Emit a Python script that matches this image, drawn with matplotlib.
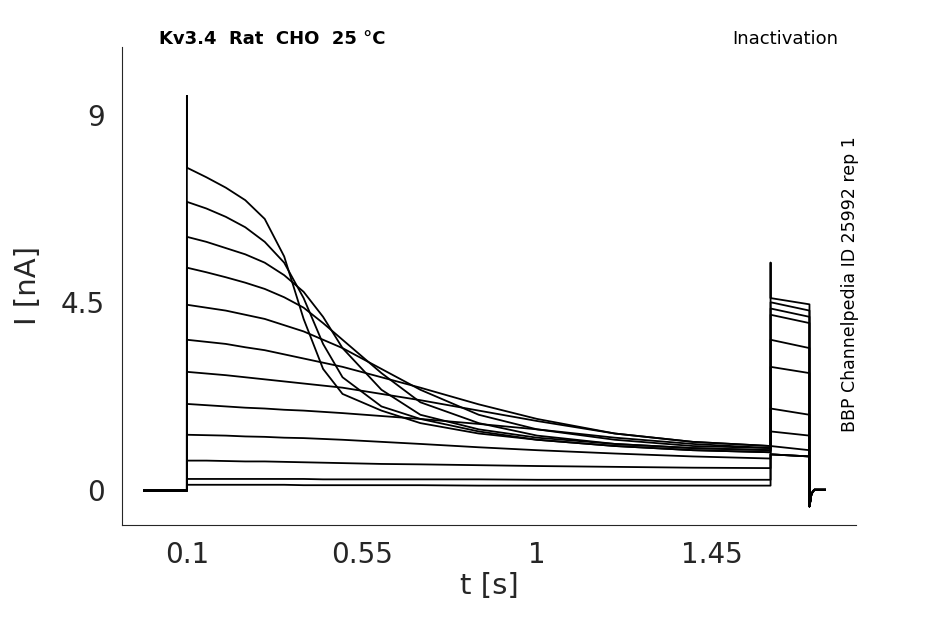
import numpy as np
from matplotlib import pyplot as plt

# sample times during the test pulse (s)
t_step = [0.1, 0.15, 0.2, 0.25, 0.3, 0.35, 0.4, 0.45, 0.5, 0.6, 0.7, 0.85, 1.0, 1.2, 1.4, 1.6]

# current (nA) of each sweep at the sample times
sweeps = [
    [7.73, 7.5, 7.25, 6.95, 6.5, 5.6, 4.1, 2.9, 2.3, 1.9, 1.6, 1.35, 1.2, 1.05, 0.95, 0.9],
    [6.91, 6.75, 6.55, 6.3, 5.95, 5.45, 4.6, 3.5, 2.7, 2.0, 1.7, 1.4, 1.2, 1.05, 0.95, 0.9],
    [6.07, 5.95, 5.8, 5.65, 5.45, 5.15, 4.75, 4.15, 3.4, 2.4, 1.8, 1.45, 1.25, 1.1, 1.0, 0.95],
    [5.33, 5.22, 5.1, 4.97, 4.82, 4.62, 4.37, 4.0, 3.6, 2.8, 2.1, 1.6, 1.3, 1.1, 1.0, 0.95],
    [4.44, 4.37, 4.3, 4.2, 4.1, 3.95, 3.8, 3.6, 3.4, 2.9, 2.4, 1.8, 1.45, 1.2, 1.05, 1.0],
    [3.6, 3.55, 3.5, 3.42, 3.35, 3.25, 3.15, 3.05, 2.95, 2.7, 2.45, 2.05, 1.7, 1.35, 1.15, 1.05],
    [2.83, 2.79, 2.75, 2.7, 2.65, 2.6, 2.55, 2.5, 2.45, 2.3, 2.15, 1.9, 1.65, 1.35, 1.15, 1.05],
    [2.06, 2.03, 2.0, 1.97, 1.95, 1.92, 1.9, 1.87, 1.84, 1.77, 1.7, 1.58, 1.45, 1.25, 1.1, 1.0],
    [1.32, 1.31, 1.3, 1.28, 1.27, 1.25, 1.24, 1.22, 1.2, 1.15, 1.1, 1.02, 0.95, 0.87, 0.8, 0.75],
    [0.7, 0.7, 0.69, 0.68, 0.68, 0.67, 0.66, 0.65, 0.64, 0.62, 0.61, 0.59, 0.57, 0.55, 0.53, 0.52],
    [0.26, 0.26, 0.26, 0.26, 0.26, 0.26, 0.26, 0.25, 0.25, 0.25, 0.25, 0.25, 0.24, 0.24, 0.24, 0.24],
    [0.12, 0.12, 0.12, 0.12, 0.12, 0.12, 0.11, 0.11, 0.11, 0.11, 0.11, 0.1, 0.1, 0.1, 0.1, 0.1],
]
# tail current at start / end of the 1.6-1.7 s pulse
tail_start = [4.6, 4.5, 4.35, 4.2, 3.6, 2.95, 1.95, 1.4, 1.05, 0.85, 0.85, 0.85]
tail_end = [4.45, 4.3, 4.15, 4.0, 3.4, 2.8, 1.8, 1.3, 0.95, 0.8, 0.8, 0.8]
peak_on = 9.45   # capacitive spike at 0.1 s
peak_tail = 5.45  # spike at 1.6 s

fig = plt.figure(figsize=(9.45, 6.24), dpi=100)
ax = fig.add_axes([0.129, 0.159, 0.777, 0.766])

for i, v in enumerate(sweeps):
    t = [-0.01, 0.1, 0.1]
    y = [-0.02, -0.02, peak_on if i == 0 else v[0]]
    t += t_step
    y += v
    t += [1.6, 1.6, 1.7, 1.7, 1.705, 1.712, 1.74]
    y += [peak_tail if i == 0 else tail_start[i], tail_start[i], tail_end[i],
          -0.4, -0.1, 0.0, 0.0]
    ax.plot(t, y, color='black', lw=1.3)

text_c = '#262626'
ax.set_xlim(-0.067, 1.82)
ax.set_ylim(-0.84, 10.63)
ax.set_xticks([0.1, 0.55, 1, 1.45])
ax.set_xticklabels(['0.1', '0.55', '1', '1.45'])
ax.set_yticks([0, 4.5, 9])
ax.set_yticklabels(['0', '4.5', '9'])
ax.tick_params(labelsize=20, colors=text_c, length=0, pad=12)
for s in ['top', 'right']:
    ax.spines[s].set_visible(False)
ax.spines['left'].set_color(text_c)
ax.spines['bottom'].set_color(text_c)
ax.set_xlabel('t [s]', fontsize=21, color=text_c, labelpad=2)
ax.set_ylabel('I [nA]', fontsize=21, color=text_c, labelpad=14)

fig.text(0.168, 0.938, 'Kv3.4  Rat  CHO  25 °C', fontsize=13,
         fontweight='bold', va='center')
fig.text(0.887, 0.938, 'Inactivation', fontsize=13, ha='right', va='center')
fig.text(0.899, 0.545, 'BBP Channelpedia ID 25992 rep 1', fontsize=12.5,
         rotation=90, ha='center', va='center')

fig.savefig('out.png', dpi=100)
